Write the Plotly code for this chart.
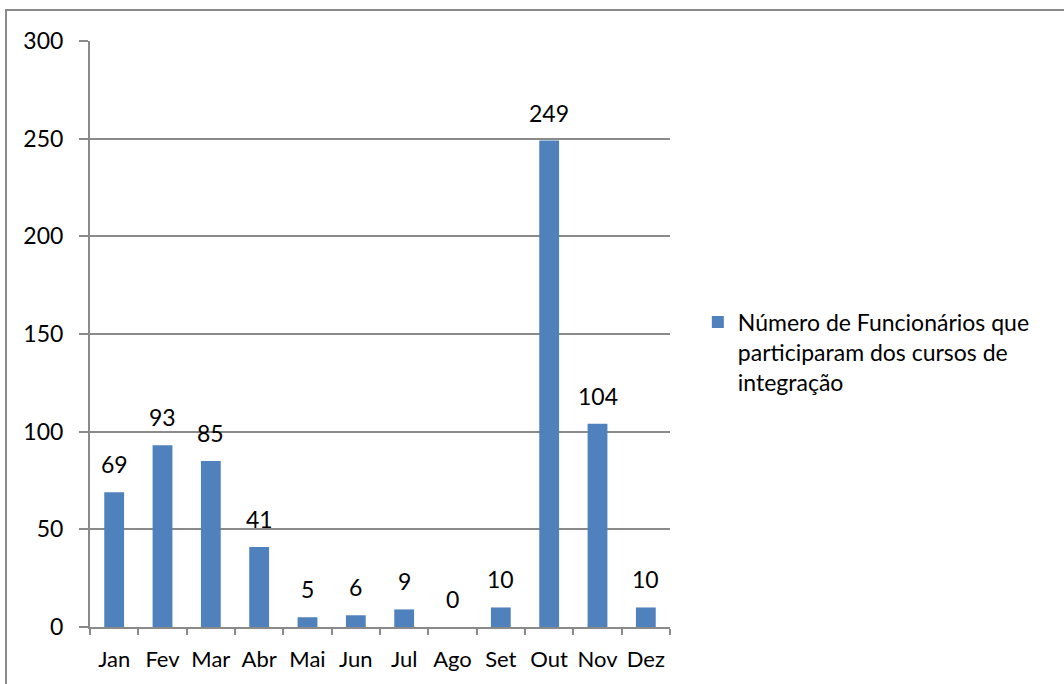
import plotly.graph_objects as go

# Monthly counts of employees who attended integration courses
months = ["Jan", "Fev", "Mar", "Abr", "Mai", "Jun", "Jul", "Ago", "Set", "Out", "Nov", "Dez"]
participants = [69, 93, 85, 41, 5, 6, 9, 0, 10, 249, 104, 10]
series_name = "Número de Funcionários que<br>participaram dos cursos de<br>integração"
y_ticks = [0, 50, 100, 150, 200, 250, 300]

FONT = "Lato"
FS = 23
GREY = "#8a8a8a"
BAR = "#4F81BD"

fig = go.Figure()
fig.add_trace(go.Bar(
    x=months,
    y=participants,
    name=series_name,
    marker=dict(color=BAR, line=dict(width=0)),
    cliponaxis=False,
    showlegend=True,
))

# value labels sitting above each bar
for m, v in zip(months, participants):
    fig.add_annotation(
        x=m, y=v, xref="x", yref="y",
        text=str(v), showarrow=False,
        yanchor="bottom", yshift=12,
        font=dict(family=FONT, size=FS, color="#000000"),
    )

fig.update_layout(
    width=1064,
    height=684,
    margin=dict(l=90, r=394, t=41, b=57),
    paper_bgcolor="white",
    plot_bgcolor="white",
    bargap=0.59,
    font=dict(family=FONT, size=FS, color="#000000"),
    showlegend=True,
    legend=dict(
        x=1.048, y=0.557, xanchor="left", yanchor="top",
        valign="top",
        font=dict(family=FONT, size=FS, color="#000000"),
        bgcolor="rgba(0,0,0,0)",
        tracegroupgap=0,
        itemwidth=30,
    ),
    xaxis=dict(
        type="category",
        automargin=False,
        tickangle=0,
        showgrid=False,
        showline=True,
        linecolor=GREY,
        linewidth=2,
        ticks="outside",
        tickson="boundaries",
        ticklen=6,
        tickcolor=GREY,
        tickwidth=2,
        ticklabelstandoff=12,
        tickfont=dict(family=FONT, size=22),
        zeroline=False,
    ),
    yaxis=dict(
        range=[0, 300],
        automargin=False,
        tickvals=y_ticks,
        ticktext=[str(v) for v in y_ticks],
        showgrid=True,
        gridcolor=GREY,
        gridwidth=2,
        showline=True,
        linecolor=GREY,
        linewidth=2,
        ticks="outside",
        ticklen=9,
        tickcolor=GREY,
        tickwidth=2,
        ticklabelstandoff=11,
        tickfont=dict(family=FONT, size=FS),
        zeroline=False,
    ),
    shapes=[dict(
        type="rect", xref="paper", yref="paper",
        x0=(6 - 90) / 580, x1=2.0,
        y0=-1.0, y1=(627 - 10) / 586,
        line=dict(color=GREY, width=2),
        fillcolor="rgba(0,0,0,0)",
        layer="below",
    )],
)

fig.write_html("out.html")
